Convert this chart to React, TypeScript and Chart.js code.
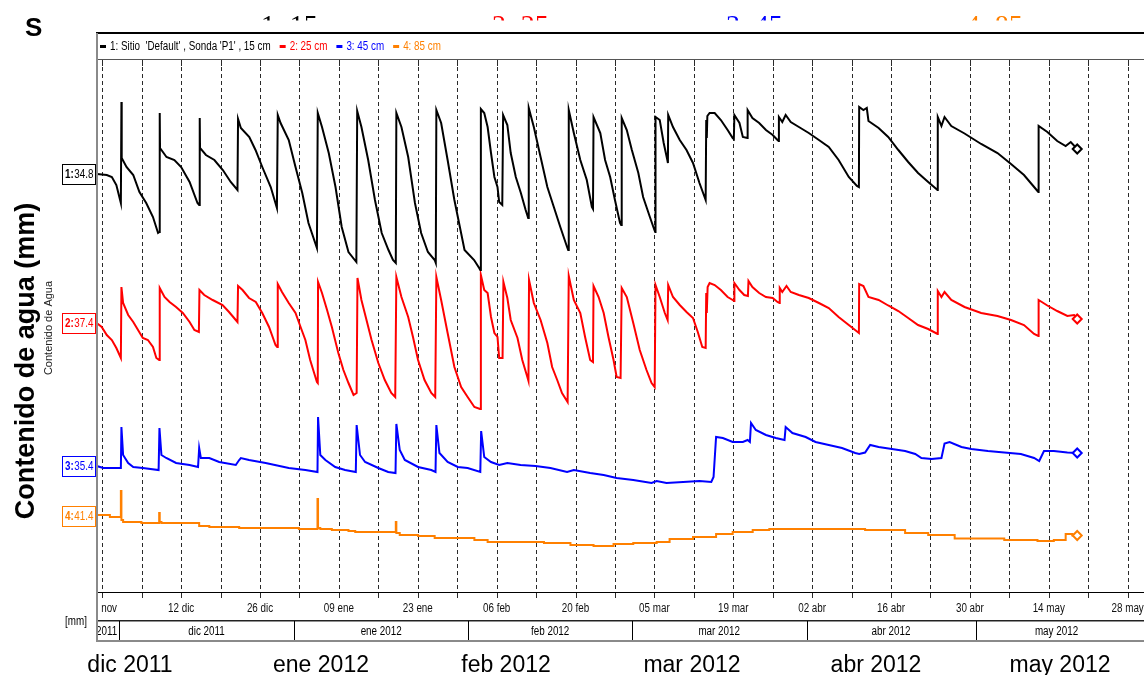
import { useEffect, useRef } from "react";
import { Chart, registerables } from "chart.js";

Chart.register(...registerables);

// Readings as [days after 28 nov 2011, water content in mm]
const PROBE_15CM: [number, number][] = [
  [-0.95, 34.8], [0.8, 34.7], [1.7, 34.5], [2.5, 33.7], [3.3, 31.9], [3.4, 42.0], [3.45, 36.4],
  [4.3, 35.5], [5.5, 34.7], [6.6, 33.0], [7.8, 31.9], [9.0, 30.5], [9.9, 28.9], [10.15, 29.0],
  [10.2, 40.9], [10.25, 37.4], [11.4, 36.5], [12.8, 36.2], [14.0, 35.5], [15.5, 34.0], [16.9, 31.9],
  [17.2, 31.7], [17.3, 40.4], [17.35, 37.4], [18.4, 36.7], [19.9, 36.2], [21.4, 35.2], [22.8, 34.0],
  [24.0, 33.2], [24.1, 40.3], [24.6, 39.4], [26.1, 38.5], [27.2, 37.2], [28.4, 35.5], [29.9, 33.5],
  [31.0, 31.4], [31.15, 40.7], [31.65, 39.9], [33.1, 38.2], [34.3, 35.5], [35.5, 32.9], [36.6, 29.9],
  [38.1, 27.4], [38.25, 40.9], [39.0, 39.5], [40.2, 36.9], [41.4, 33.5], [42.5, 29.5], [43.7, 27.0],
  [45.1, 26.0], [45.25, 41.1], [46.0, 39.5], [47.2, 36.2], [48.4, 32.2], [49.6, 28.9], [50.8, 27.2],
  [51.6, 26.2], [52.1, 25.9], [52.2, 40.9], [53.1, 39.5], [54.3, 36.5], [55.5, 31.9], [56.6, 28.9],
  [57.8, 27.0], [59.0, 26.2], [59.2, 25.9], [59.3, 41.2], [60.15, 39.9], [61.3, 36.2], [62.5, 32.2],
  [64.3, 27.2], [66.0, 26.2], [66.9, 25.4], [67.1, 25.2], [67.2, 41.3], [67.8, 40.9], [68.4, 39.5],
  [69.0, 36.9], [69.6, 34.5], [70.15, 33.5], [70.45, 32.0], [71.0, 31.7], [71.15, 40.7], [71.9, 39.7],
  [72.5, 36.9], [73.4, 34.5], [74.3, 32.9], [75.15, 31.2], [75.6, 30.4], [75.7, 41.4], [76.6, 39.5],
  [77.8, 36.5], [79.0, 33.5], [80.15, 31.5], [81.3, 29.5], [82.5, 27.5], [82.7, 27.2], [82.8, 41.2],
  [83.7, 38.9], [84.85, 36.2], [86.0, 34.2], [86.9, 31.5], [87.1, 31.3], [87.2, 40.5], [88.4, 38.9],
  [89.25, 36.2], [90.15, 34.5], [91.0, 32.2], [91.9, 29.9], [92.1, 29.7], [92.2, 40.4], [93.1, 39.2],
  [94.0, 37.2], [95.15, 34.9], [96.0, 32.5], [97.2, 30.5], [98.0, 29.2], [98.15, 29.0], [98.2, 40.5],
  [98.95, 40.2], [99.65, 37.9], [100.3, 36.2], [100.4, 35.9], [100.45, 40.7], [101.3, 39.5],
  [102.5, 38.2], [103.7, 37.2], [104.85, 35.9], [106.0, 33.9], [107.1, 32.2], [107.2, 40.2],
  [107.3, 38.4], [107.4, 40.6], [107.8, 40.9], [108.7, 40.9], [109.8, 40.2], [111.0, 39.2],
  [111.9, 38.4], [112.1, 38.3], [112.2, 40.7], [113.1, 39.9], [113.7, 38.5], [114.5, 38.4],
  [114.55, 41.2], [115.4, 40.4], [116.6, 39.9], [117.8, 39.2], [119.0, 38.7], [119.85, 38.2],
  [120.05, 38.1], [120.1, 40.5], [120.7, 40.0], [121.3, 40.7], [122.2, 40.0], [123.65, 39.5],
  [125.4, 38.9], [127.2, 38.2], [128.95, 37.5], [130.7, 36.2], [132.5, 34.5], [133.95, 33.6],
  [134.3, 33.5], [134.35, 41.5], [135.1, 41.2], [135.7, 41.4], [136.0, 40.1], [137.8, 39.4],
  [139.5, 38.5], [141.3, 37.2], [143.05, 36.0], [144.8, 34.9], [146.6, 34.0], [148.05, 33.3],
  [148.25, 33.2], [148.3, 40.5], [148.95, 39.6], [149.5, 40.5], [150.7, 39.6], [153.05, 38.85],
  [156.0, 37.8], [158.9, 36.9], [161.3, 35.8], [163.6, 34.7], [166.0, 33.1], [166.15, 33.0],
  [166.2, 39.6], [167.75, 39.0], [169.5, 38.1], [171.0, 37.6], [171.9, 38.0], [173.05, 37.3],
];

const PROBE_25CM: [number, number][] = [
  [-0.99, 37.4], [-0.1, 37.0], [0.8, 36.2], [1.7, 35.7], [2.5, 34.9], [3.3, 33.9], [3.4, 41.0],
  [3.7, 39.4], [4.6, 38.2], [5.5, 37.5], [6.35, 36.7], [7.2, 35.9], [8.1, 35.7], [9.0, 35.0],
  [9.6, 33.9], [10.1, 33.7], [10.2, 40.9], [11.05, 40.0], [11.95, 39.5], [13.1, 39.0], [14.3, 38.4],
  [15.5, 37.5], [16.35, 36.7], [17.15, 36.5], [17.25, 40.7], [18.1, 40.2], [19.6, 39.7],
  [21.35, 39.2], [22.5, 38.5], [23.7, 37.7], [24.0, 37.5], [24.1, 41.1], [24.9, 40.7], [26.05, 39.9],
  [27.25, 39.5], [28.4, 38.4], [29.6, 37.0], [30.75, 35.2], [31.05, 35.0], [31.15, 41.3],
  [31.9, 40.5], [33.1, 39.4], [34.3, 38.4], [35.2, 37.0], [36.05, 35.7], [36.9, 33.7], [38.1, 31.5],
  [38.25, 31.4], [38.3, 41.5], [39.0, 40.4], [39.9, 38.7], [40.75, 37.0], [41.9, 34.4], [42.8, 32.7],
  [43.7, 31.4], [44.6, 30.2], [45.15, 30.4], [45.3, 41.9], [46.0, 39.7], [46.9, 37.7], [47.8, 35.7],
  [49.0, 33.4], [50.15, 31.7], [51.3, 30.4], [52.0, 30.0], [52.2, 42.0], [53.1, 40.0], [54.3, 38.0],
  [55.15, 36.0], [56.05, 33.7], [57.2, 31.7], [58.4, 30.4], [59.1, 30.0], [59.3, 42.0], [60.15, 39.7],
  [61.3, 36.4], [62.5, 33.0], [63.7, 31.0], [64.85, 30.0], [66.05, 29.0], [67.05, 28.8], [67.2, 42.2],
  [67.8, 40.7], [68.4, 40.4], [69.0, 38.0], [69.6, 36.4], [70.15, 36.0], [70.45, 33.9], [71.05, 33.9],
  [71.2, 41.5], [71.9, 39.9], [72.5, 37.7], [73.7, 35.9], [74.55, 33.7], [75.45, 32.0], [75.65, 31.6],
  [75.75, 41.7], [76.6, 39.4], [77.8, 37.7], [79.0, 35.4], [79.85, 33.0], [80.75, 31.7], [81.6, 30.4],
  [82.6, 29.5], [82.8, 42.1], [83.7, 39.7], [84.85, 38.4], [85.7, 36.0], [86.6, 33.7], [87.1, 33.5],
  [87.2, 41.1], [88.1, 40.0], [89.0, 38.4], [89.85, 36.0], [90.75, 33.7], [91.3, 32.0], [92.0, 31.9],
  [92.2, 40.9], [93.1, 40.0], [94.25, 37.4], [95.4, 34.7], [96.6, 32.7], [97.5, 31.4], [98.05, 31.0],
  [98.2, 41.2], [98.95, 40.0], [99.85, 38.4], [100.35, 37.7], [100.45, 41.2], [101.3, 40.0],
  [102.5, 39.2], [103.7, 38.5], [104.85, 37.9], [105.7, 36.5], [106.5, 35.0], [107.1, 34.9],
  [107.2, 40.4], [107.3, 38.4], [107.45, 41.0], [107.8, 41.4], [108.7, 41.2], [109.8, 40.7],
  [111.0, 40.0], [111.9, 39.7], [112.15, 39.6], [112.2, 41.4], [113.1, 40.7], [113.95, 40.2],
  [114.6, 40.1], [114.7, 41.6], [115.4, 41.0], [116.6, 40.4], [117.8, 40.0], [119.0, 39.9],
  [119.85, 39.5], [120.2, 39.4], [120.25, 40.9], [120.7, 40.5], [121.45, 41.1], [122.2, 40.5],
  [123.65, 40.2], [125.4, 39.9], [127.2, 39.4], [128.95, 38.9], [130.7, 38.0], [132.5, 37.2],
  [134.3, 36.4], [134.35, 41.3], [135.1, 41.1], [136.0, 40.0], [137.8, 39.7], [139.5, 39.15],
  [141.3, 38.6], [143.05, 37.9], [144.8, 37.2], [146.6, 36.8], [148.25, 36.3], [148.3, 40.6],
  [148.95, 40.0], [149.5, 40.5], [150.7, 39.7], [153.05, 39.0], [156.0, 38.4], [158.9, 38.1],
  [161.3, 37.7], [163.6, 37.2], [165.4, 36.3], [166.15, 36.1], [166.2, 39.7], [167.75, 39.15],
  [169.5, 38.6], [171.3, 38.1], [172.5, 38.2], [173.05, 37.8],
];

const PROBE_45CM: [number, number][] = [
  [-0.99, 35.4], [0.2, 35.2], [3.3, 35.2], [3.4, 39.3], [3.7, 36.5], [4.6, 35.7], [5.5, 35.3],
  [7.2, 35.2], [10.0, 35.0], [10.15, 39.2], [10.5, 36.5], [11.35, 36.2], [13.1, 35.7], [15.5, 35.5],
  [17.0, 35.3], [17.2, 37.2], [17.5, 36.2], [19.0, 36.2], [20.75, 35.8], [23.7, 35.5], [24.3, 36.0],
  [24.6, 36.2], [26.05, 36.0], [29.0, 35.7], [33.1, 35.2], [36.05, 35.0], [38.2, 34.8], [38.3, 40.3],
  [38.7, 36.5], [39.6, 36.0], [41.35, 35.3], [43.1, 35.0], [45.0, 34.8], [45.15, 39.5], [45.75, 36.5],
  [46.65, 35.8], [49.0, 35.2], [50.75, 34.8], [52.05, 34.7], [52.2, 39.6], [52.8, 37.0], [53.7, 36.0],
  [56.05, 35.3], [58.4, 35.0], [59.15, 34.8], [59.3, 39.5], [59.85, 36.7], [61.3, 35.8], [63.1, 35.3],
  [64.85, 35.2], [67.1, 34.8], [67.25, 38.9], [67.8, 36.3], [69.0, 35.8], [70.45, 35.5], [71.9, 35.7],
  [74.25, 35.5], [76.9, 35.4], [79.55, 35.2], [82.5, 34.8], [83.7, 35.0], [86.6, 34.7], [89.0, 34.5],
  [91.3, 34.2], [94.25, 34.0], [97.5, 33.7], [98.4, 33.9], [100.15, 33.7], [103.1, 33.8],
  [106.0, 33.9], [108.1, 33.8], [108.5, 34.3], [108.95, 38.3], [110.15, 38.2], [111.9, 37.8],
  [113.7, 37.8], [114.55, 38.0], [114.95, 37.8], [115.15, 39.7], [116.0, 39.0], [117.8, 38.5],
  [119.55, 38.2], [121.1, 38.0], [121.3, 39.3], [122.5, 38.7], [124.85, 38.3], [126.6, 37.8],
  [128.95, 37.5], [131.3, 37.2], [133.65, 36.7], [134.35, 36.6], [135.4, 36.75], [136.3, 37.5],
  [137.8, 37.3], [140.15, 37.1], [142.5, 36.9], [144.3, 36.6], [145.4, 36.2], [147.2, 36.1],
  [148.95, 36.2], [149.5, 37.65], [150.4, 37.8], [152.5, 37.3], [154.25, 37.1], [157.2, 36.9],
  [160.1, 36.75], [163.05, 36.6], [165.4, 36.2], [166.3, 35.9], [167.15, 36.9], [168.9, 36.9],
  [171.3, 36.75], [173.05, 36.7],
];

const PROBE_85CM: [number, number][] = [
  [-0.99, 41.4], [1.35, 41.5], [3.3, 41.3], [3.4, 43.9], [3.7, 41.0], [4.3, 40.8], [6.95, 40.8],
  [7.25, 40.7], [10.1, 40.7], [10.2, 41.7], [10.5, 40.8], [13.7, 40.7], [17.2, 40.7], [19.0, 40.4],
  [24.3, 40.3], [29.6, 40.2], [34.9, 40.2], [38.2, 40.1], [38.3, 43.1], [38.7, 40.2], [40.75, 40.1],
  [43.7, 40.0], [44.9, 39.9], [52.1, 39.8], [52.2, 40.8], [52.8, 39.7], [56.05, 39.5], [59.0, 39.4],
  [61.3, 39.2], [66.05, 39.2], [68.4, 39.0], [74.25, 38.8], [78.4, 38.8], [83.1, 38.7], [87.2, 38.5],
  [90.75, 38.4], [94.25, 38.6], [98.4, 38.7], [100.7, 38.8], [104.85, 39.1], [108.95, 39.3],
  [111.9, 39.6], [115.45, 39.8], [118.4, 40.0], [122.5, 40.1], [131.3, 40.1], [135.4, 40.1],
  [142.5, 40.0], [146.6, 39.7], [151.3, 39.5], [154.25, 39.15], [160.1, 39.15], [166.0, 39.0],
  [168.9, 38.9], [171.0, 39.0], [171.2, 39.6], [172.2, 39.6], [173.05, 39.45],
];

const SERIES_NAMES = ["1: Sitio  'Default' , Sonda 'P1' , 15 cm", "2: 25 cm", "3: 45 cm", "4: 85 cm"];
const DEPTH_TITLES = ["1: 15", "2: 25", "3: 45", "4: 85"];
const SERIES_COLORS = ["#000000", "#ff0000", "#0000ff", "#ff8000"];
// Each probe has its own (hidden) mm axis: [min, max]
const AXIS_RANGES: [number, number][] = [[-7.0, 46.2], [10.5, 63.7], [22.8, 76.0], [33.8, 87.0]];

// Time axis, in days after 28 nov 2011
const X_MIN = -0.935;
const X_MAX = 183.75;
const GRID_STEP_DAYS = 7;
const LABEL_STEP_DAYS = 14;
const TICK_LABELS = [
  "28 nov", "12 dic", "26 dic", "09 ene", "23 ene", "06 feb", "20 feb",
  "05 mar", "19 mar", "02 abr", "16 abr", "30 abr", "14 may", "28 may",
];
const MONTH_START_DAYS = [-27, 3, 34, 65, 94, 125, 155, 186];
const MONTH_LABELS = ["nov 2011", "dic 2011", "ene 2012", "feb 2012", "mar 2012", "abr 2012", "may 2012"];
const FOOTER_LABELS = ["dic 2011", "ene 2012", "feb 2012", "mar 2012", "abr 2012", "may 2012"];

const Y_TITLE = "Contenido de agua (mm)";
const Y_SUBTITLE = "Contenido de Agua";
const UNIT_LABEL = "[mm]";
const CORNER_TITLE = "S";

// Layout
const W = 1144;
const H = 675;
const FOOTER_X = [130, 321, 506, 692, 876, 1060];
const DEPTH_TITLE_X = [261, 492, 726, 966];

const SANS = '"Liberation Sans", Arial, sans-serif';
const SERIF = '"Liberation Serif", "Times New Roman", serif';
const NARROW_SCALE = 0.82;

// Draws text horizontally squeezed, giving a condensed sans face.
function narrowText(ctx: any, text: string, x: number, y: number, align: string, font: string) {
  ctx.save();
  ctx.font = font;
  const w = ctx.measureText(text).width * NARROW_SCALE;
  const x0 = align === "center" ? x - w / 2 : align === "right" ? x - w : x;
  ctx.translate(x0, y);
  ctx.scale(NARROW_SCALE, 1);
  ctx.textAlign = "left";
  ctx.fillText(text, 0, 0);
  ctx.restore();
  return w;
}

const chromePlugin = {
  id: "chrome",
  beforeDatasetsDraw(chart: any) {
    const { ctx, chartArea: a } = chart;
    const xs = chart.scales.x;
    ctx.save();
    ctx.strokeStyle = "#2a2a2a";
    ctx.lineWidth = 1;
    for (let d = 0; d <= X_MAX; d += GRID_STEP_DAYS) {
      const px = Math.round(xs.getPixelForValue(d)) + 0.5;
      if (px < a.left) continue;
      ctx.setLineDash([4, 3]);
      ctx.beginPath();
      ctx.moveTo(px, a.top + 7);
      ctx.lineTo(px, a.bottom);
      ctx.stroke();
      ctx.setLineDash([]);
      ctx.beginPath();
      ctx.moveTo(px, a.top);
      ctx.lineTo(px, a.top + 6);
      ctx.moveTo(px, a.bottom);
      ctx.lineTo(px, a.bottom + 6);
      ctx.stroke();
    }
    ctx.restore();
  },
  afterDraw(chart: any) {
    const { ctx, chartArea: a } = chart;
    const xs = chart.scales.x;
    ctx.save();

    // corner letter
    ctx.fillStyle = "#000";
    ctx.font = `bold 26px ${SANS}`;
    ctx.textAlign = "left";
    ctx.textBaseline = "alphabetic";
    ctx.fillText(CORNER_TITLE, 25, 36);

    // depth headings, cut by the panel above
    ctx.save();
    ctx.beginPath();
    ctx.rect(0, 0, W, 20.5);
    ctx.clip();
    ctx.font = `28px ${SERIF}`;
    DEPTH_TITLES.forEach((t, i) => {
      ctx.fillStyle = SERIES_COLORS[i];
      ctx.fillText(t, DEPTH_TITLE_X[i], 34);
    });
    ctx.restore();

    // panel frame
    ctx.fillStyle = "#000";
    ctx.fillRect(96, 32, W - 96, 2);
    ctx.fillStyle = "#555";
    ctx.fillRect(97, 59, W - 97, 1);
    ctx.fillStyle = "#000";
    ctx.fillRect(97, a.bottom, W - 97, 1);
    ctx.fillStyle = "#222";
    ctx.fillRect(97, 620, W - 97, 1.5);
    ctx.fillStyle = "#8a8a8a";
    ctx.fillRect(97, 640, W - 97, 2);
    ctx.fillRect(96, 33, 2, 642 - 33);

    // legend row
    const legendFont = `12px ${SANS}`;
    ctx.textBaseline = "middle";
    let lx = 100;
    SERIES_NAMES.forEach((name, i) => {
      ctx.fillStyle = SERIES_COLORS[i];
      ctx.fillRect(lx, 45, 6, 3);
      const w = narrowText(ctx, name, lx + 10, 46.5, "left", legendFont);
      lx += 10 + w + 9;
    });

    // date tick labels
    const axisFont = `12px ${SANS}`;
    ctx.save();
    ctx.beginPath();
    ctx.rect(99, a.bottom + 2, W - 99, 28);
    ctx.clip();
    ctx.fillStyle = "#111";
    TICK_LABELS.forEach((t, i) => {
      narrowText(ctx, t, xs.getPixelForValue(i * LABEL_STEP_DAYS), 609, "center", axisFont);
    });
    ctx.restore();

    // month band
    ctx.save();
    ctx.beginPath();
    ctx.rect(98, 621, W - 98, 19);
    ctx.clip();
    ctx.fillStyle = "#000";
    for (let i = 0; i < MONTH_LABELS.length; i++) {
      const x0 = Math.max(a.left, xs.getPixelForValue(MONTH_START_DAYS[i]));
      const x1 = Math.min(a.right, xs.getPixelForValue(MONTH_START_DAYS[i + 1]));
      if (x1 <= x0) continue;
      ctx.font = axisFont;
      const tw = ctx.measureText(MONTH_LABELS[i]).width * NARROW_SCALE;
      if (tw > x1 - x0 - 4) {
        narrowText(ctx, MONTH_LABELS[i], x1 - 2, 631.5, "right", axisFont);
      } else {
        narrowText(ctx, MONTH_LABELS[i], (x0 + x1) / 2, 631.5, "center", axisFont);
      }
      if (i > 0) ctx.fillRect(Math.round(x0), 621, 1, 19);
    }
    ctx.restore();

    // unit label
    ctx.fillStyle = "#000";
    narrowText(ctx, UNIT_LABEL, 76, 622, "center", `12px ${SANS}`);

    // month footer
    ctx.font = `23px ${SANS}`;
    ctx.textAlign = "center";
    ctx.textBaseline = "alphabetic";
    FOOTER_LABELS.forEach((t, i) => ctx.fillText(t, FOOTER_X[i], 672));

    // vertical titles
    ctx.save();
    ctx.translate(34, 361);
    ctx.rotate(-Math.PI / 2);
    ctx.font = `bold 27px ${SANS}`;
    ctx.fillText(Y_TITLE, 0, 0);
    ctx.restore();
    ctx.save();
    ctx.translate(52, 328);
    ctx.rotate(-Math.PI / 2);
    ctx.font = `11px ${SANS}`;
    ctx.fillStyle = "#222";
    ctx.fillText(Y_SUBTITLE, 0, 0);
    ctx.restore();

    // start-value boxes
    const probes = [PROBE_15CM, PROBE_25CM, PROBE_45CM, PROBE_85CM];
    probes.forEach((p, i) => {
      const y = Math.round(chart.scales[`y${i + 1}`].getPixelForValue(p[0][1]));
      ctx.fillStyle = "#fff";
      ctx.fillRect(62, y - 10, 33, 20);
      ctx.strokeStyle = SERIES_COLORS[i];
      ctx.lineWidth = 1;
      ctx.strokeRect(62.5, y - 9.5, 33, 20);
      ctx.fillStyle = SERIES_COLORS[i];
      ctx.textBaseline = "middle";
      const tagW = narrowText(ctx, `${i + 1}:`, 65, y + 0.5, "left", `bold 12px ${SANS}`);
      narrowText(ctx, p[0][1].toFixed(1), 65 + tagW + 0.5, y + 0.5, "left", `12px ${SANS}`);
    });

    ctx.restore();
  },
};

export default function App() {
  const ref = useRef<HTMLCanvasElement | null>(null);

  useEffect(() => {
    const probes = [PROBE_15CM, PROBE_25CM, PROBE_45CM, PROBE_85CM];
    const datasets = probes.map((p, i) => ({
      label: SERIES_NAMES[i],
      data: p.map(([d, mm]) => ({ x: d, y: mm })),
      yAxisID: `y${i + 1}`,
      borderColor: SERIES_COLORS[i],
      backgroundColor: SERIES_COLORS[i],
      borderWidth: 2,
      tension: 0,
      stepped: i === 3 ? "after" : false,
      pointStyle: "rectRot",
      pointRadius: (c: any) => (c.dataIndex === p.length - 1 ? 4.5 : 0),
      pointHoverRadius: 0,
      pointBorderWidth: 2,
      pointBorderColor: SERIES_COLORS[i],
      pointBackgroundColor: "#ffffff",
    }));

    const scales: any = {
      x: { type: "linear", min: X_MIN, max: X_MAX, display: false },
    };
    AXIS_RANGES.forEach(([min, max], i) => {
      scales[`y${i + 1}`] = { type: "linear", min, max, display: false };
    });

    const chart = new Chart(ref.current as HTMLCanvasElement, {
      type: "line",
      data: { datasets: datasets as any },
      options: {
        responsive: false,
        animation: false,
        layout: { padding: { left: 97, top: 60, right: 0, bottom: 83 } },
        scales,
        plugins: { legend: { display: false }, tooltip: { enabled: false } },
        events: [],
      },
      plugins: [chromePlugin],
    });
    return () => chart.destroy();
  }, []);

  return (
    <div style={{ position: "absolute", left: 0, top: 0, width: W, height: H, background: "#fff" }}>
      <canvas ref={ref} width={W} height={H} style={{ display: "block" }} />
    </div>
  );
}
